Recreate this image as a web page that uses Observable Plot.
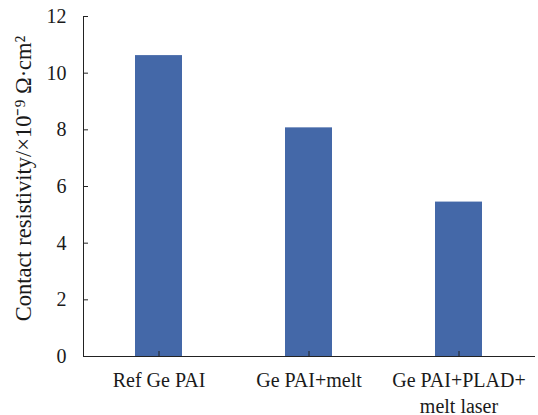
<!DOCTYPE html>
<html>
<head>
<meta charset="utf-8">
<script src="https://cdn.jsdelivr.net/npm/d3@7"></script>
<script src="https://cdn.jsdelivr.net/npm/@observablehq/plot@0.6"></script>
<style>
  html, body { margin: 0; padding: 0; background: #fff; }
  #chart svg { display: block; }
</style>
</head>
<body>
<div id="chart"></div>
<script>
// Contact resistivity for three process conditions
const categories = ["Ref Ge PAI", "Ge PAI+melt", "Ge PAI+PLAD+\nmelt laser"];
const resistivity = [10.62, 8.07, 5.45];
const yTicks = [0, 2, 4, 6, 8, 10, 12];
const yTitle = "Contact resistivity/×10⁻⁹ Ω·cm²";

const rows = categories.map((c, i) => ({category: c, value: resistivity[i]}));

const serif = "'Liberation Serif', 'Times New Roman', serif";

const chart = Plot.plot({
  width: 538,
  height: 415,
  marginLeft: 83,
  marginRight: 4,
  marginTop: 16,
  marginBottom: 59,
  style: {fontFamily: serif, fontSize: "20px", color: "#1a1a1a", background: "#fff"},
  x: {domain: categories, paddingInner: 0.69, paddingOuter: 0.345, align: 0.5},
  y: {domain: [0, 12]},
  marks: [
    Plot.barY(rows, {x: "category", y: "value", fill: "#4468a8"}),
    // inward tick marks
    Plot.axisY({ticks: yTicks, tickSize: -5, text: null, stroke: "#222", label: null}),
    Plot.axisX({tickSize: -5, text: null, stroke: "#222", label: null}),
    // tick labels
    Plot.axisY({ticks: yTicks, tickSize: 0, tickPadding: 17, fontSize: 20, label: null}),
    Plot.axisX({tickSize: 0, tickPadding: 12, fontSize: 20, lineHeight: 1.3, label: null}),
    // rotated y-axis title
    Plot.text([yTitle], {
      frameAnchor: "left", text: d => d, rotate: -90,
      dx: -60, dy: -8, fontSize: 22.5, lineAnchor: "middle", textAnchor: "middle",
      fill: "#1a1a1a"
    }),
    Plot.frame({anchor: "left", stroke: "#222"}),
    Plot.frame({anchor: "bottom", stroke: "#222"})
  ]
});

d3.select(chart).selectAll("text, tspan").style("font-family", serif);
document.getElementById("chart").appendChild(chart);
</script>
</body>
</html>
